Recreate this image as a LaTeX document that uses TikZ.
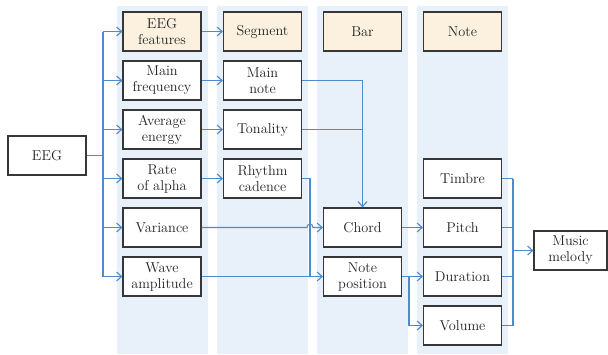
\documentclass[tikz,border=0pt]{standalone}
\usetikzlibrary{arrows.meta}
\definecolor{stripblue}{RGB}{232,240,249}
\definecolor{headfill}{RGB}{251,241,222}
\definecolor{linkblue}{RGB}{78,138,206}
\definecolor{boxline}{RGB}{55,55,55}
\definecolor{txt}{RGB}{35,35,35}
\begin{document}
\begin{tikzpicture}[x=1pt,y=-1pt,
  strip/.style={fill=stripblue},
  box/.style={draw=boxline, line width=1.2pt, fill=white, minimum width=78pt,
    minimum height=39pt, inner sep=1pt, align=center, text=txt,
    font=\fontsize{14.3}{16}\selectfont},
  headbox/.style={box, fill=headfill},
  line/.style={draw=linkblue, line width=1.1pt},
  arrow/.style={line, -{Straight Barb[length=5pt,width=9pt]}}]
\useasboundingbox (0,0) rectangle (608,354);

% column backgrounds
\fill[strip] (117,6) rectangle (208,354);
\fill[strip] (217,6) rectangle (308,354);
\fill[strip] (317,6) rectangle (408,354);
\fill[strip] (417,6) rectangle (508,354);

% source and sink
\node[box] (eeg) at (47,155.5) {EEG};
\node[box, minimum width=73pt] (melody) at (570.5,250.5) {Music\\melody};

% EEG features column
\node[headbox] (feat) at (162,31.5) {EEG\\features};
\node[box] (freq) at (162,80.5) {Main\\frequency};
\node[box] (energy) at (162,129.5) {Average\\energy};
\node[box] (alpha) at (162,178.5) {Rate\\of alpha};
\node[box] (var) at (162,227.5) {Variance};
\node[box] (amp) at (162,276.5) {Wave\\amplitude};

% Segment column
\node[headbox] (seg) at (262.5,31.5) {Segment};
\node[box] (mainnote) at (262.5,80.5) {Main\\note};
\node[box] (tonality) at (262.5,129.5) {Tonality};
\node[box] (rhythm) at (262.5,178.5) {Rhythm\\cadence};

% Bar column
\node[headbox] (bar) at (362.5,31.5) {Bar};
\node[box] (chord) at (362.5,227.5) {Chord};
\node[box] (notepos) at (362.5,276.5) {Note\\position};

% Note column
\node[headbox] (note) at (462.5,31.5) {Note};
\node[box] (timbre) at (462.5,178.5) {Timbre};
\node[box] (pitch) at (462.5,227.5) {Pitch};
\node[box] (duration) at (462.5,276.5) {Duration};
\node[box] (volume) at (462.5,325.5) {Volume};

% EEG fan-out
\coordinate (tk) at (103,155.5);
\draw[line] (eeg.east) -- (tk);
\draw[line] (tk |- feat.west) -- (tk |- amp.west);
\foreach \n in {feat,freq,energy,alpha,var,amp}
  \draw[arrow] (tk |- \n.west) -- (\n.west);

% features to segment
\draw[arrow] (feat.east) -- (seg.west);
\draw[arrow] (freq.east) -- (mainnote.west);
\draw[arrow] (energy.east) -- (tonality.west);
\draw[arrow] (alpha.east) -- (rhythm.west);

% segment to bar
\draw[arrow] (mainnote.east) -| (chord.north);
\draw[line] (tonality.east) -- (tonality.east -| chord.north);
\coordinate (rj) at (310,276.5);
\draw[line] (rhythm.east) -| (rj);
\draw[arrow] (var.east) -- (307,227.5) .. controls (307,223) and (313,223) .. (313,227.5) -- (chord.west);
\draw[arrow] (amp.east) -- (notepos.west);

% bar to note
\draw[arrow] (chord.east) -- (pitch.west);
\coordinate (nj) at (409,276.5);
\draw[arrow] (notepos.east) -- (duration.west);
\draw[arrow] (nj) |- (volume.west);

% note to melody
\coordinate (mj) at (513,250.5);
\foreach \n in {timbre,pitch,duration,volume}
  \draw[line] (\n.east) -- (\n.east -| mj);
\draw[line] (mj |- timbre.east) -- (mj |- volume.east);
\draw[arrow] (mj) -- (melody.west);
\end{tikzpicture}
\end{document}
